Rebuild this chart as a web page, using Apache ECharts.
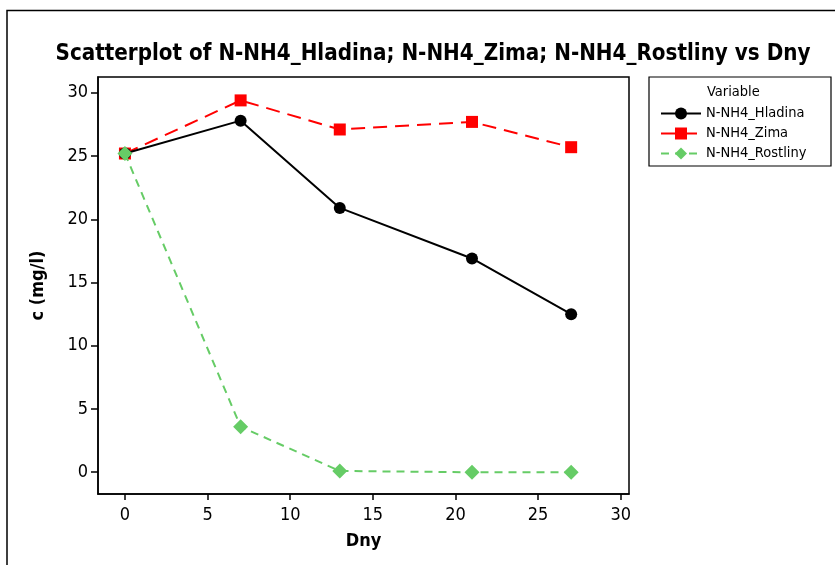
<!DOCTYPE html>
<html>
<head>
<meta charset="utf-8">
<script src="https://cdn.jsdelivr.net/npm/echarts@6/dist/echarts.min.js"></script>
<style>html,body{margin:0;padding:0;background:#fff}#c{width:835px;height:565px}</style>
</head>
<body>
<div id="c"></div>
<script>
// Measurement days and ammonium-nitrogen concentrations (mg/l)
const days = [0, 7, 13, 21, 27];
const hladina = [25.2, 27.8, 20.9, 16.9, 12.5];
const zima = [25.2, 29.4, 27.1, 27.7, 25.7];
const rostliny = [25.2, 3.6, 0.1, 0.0, 0.0];
const xTicks = [0, 5, 10, 15, 20, 25, 30];
const yTicks = [0, 5, 10, 15, 20, 25, 30];
const seriesNames = ['N-NH4_Hladina', 'N-NH4_Zima', 'N-NH4_Rostliny'];

const pair = (ys) => days.map((d, i) => [d, ys[i]]);
const font = 'DejaVu Sans Condensed';

const chart = echarts.init(document.getElementById('c'), null, {renderer: 'canvas'});
chart.setOption({
  animation: false,
  title: {
    text: 'Scatterplot of N-NH4_Hladina; N-NH4_Zima; N-NH4_Rostliny vs Dny',
    left: 428, top: 38, textAlign: 'center',
    textStyle: {fontFamily: font, fontWeight: 'bold', fontSize: 22.2, color: '#000'}
  },
  grid: {left: 98, top: 77, width: 531, height: 417, show: true, borderColor: '#000', borderWidth: 1.5},
  xAxis: {
    type: 'value', min: -1.63, max: 30.5,
    name: 'Dny', nameLocation: 'middle', nameGap: 38,
    nameTextStyle: {fontFamily: font, fontWeight: 'bold', fontSize: 18, color: '#000'},
    axisLine: {show: true, onZero: false, lineStyle: {color: '#000', width: 1.5}},
    axisTick: {show: true, customValues: xTicks, length: 6, lineStyle: {color: '#000', width: 1.5}},
    axisLabel: {customValues: xTicks, fontFamily: font, fontSize: 18, color: '#000', margin: 12},
    splitLine: {show: false}
  },
  yAxis: {
    type: 'value', min: -1.72, max: 31.25,
    name: 'c (mg/l)', nameLocation: 'middle', nameGap: 51,
    nameTextStyle: {fontFamily: font, fontWeight: 'bold', fontSize: 18, color: '#000'},
    axisLine: {show: true, onZero: false, lineStyle: {color: '#000', width: 1.5}},
    axisTick: {show: true, customValues: yTicks, length: 7, lineStyle: {color: '#000', width: 1.5}},
    axisLabel: {customValues: yTicks, fontFamily: font, fontSize: 18, color: '#000', margin: 10},
    splitLine: {show: false}
  },
  legend: {
    data: seriesNames,
    orient: 'vertical', left: 655, top: 101, itemGap: 5,
    itemWidth: 40, itemHeight: 15,
    textStyle: {fontFamily: font, fontSize: 14.5, color: '#000'}
  },
  graphic: [
    {type: 'rect', shape: {x: 7, y: 10.5, width: 840, height: 570}, style: {fill: 'none', stroke: '#000', lineWidth: 1.5}, silent: true, z: -1},
    {type: 'rect', shape: {x: 649, y: 77, width: 182, height: 89}, style: {fill: 'none', stroke: '#000', lineWidth: 1.2}, silent: true},
    {type: 'text', x: 707, y: 84.5, style: {text: 'Variable', fontFamily: font, fontSize: 14.5, fill: '#000'}}
  ],
  series: [
    {
      name: seriesNames[0], type: 'line', data: pair(hladina),
      symbol: 'circle', symbolSize: 12,
      lineStyle: {color: '#000', width: 2}, itemStyle: {color: '#000'}, z: 3
    },
    {
      name: seriesNames[1], type: 'line', data: pair(zima),
      symbol: 'rect', symbolSize: 12,
      lineStyle: {color: '#ff0000', width: 2, type: [14, 8]}, itemStyle: {color: '#ff0000'}, z: 2
    },
    {
      name: seriesNames[2], type: 'line', data: pair(rostliny),
      symbol: 'diamond', symbolSize: 15,
      lineStyle: {color: '#66cc66', width: 2, type: [8, 6]}, itemStyle: {color: '#66cc66'}, z: 4
    }
  ]
});
</script>
</body>
</html>
